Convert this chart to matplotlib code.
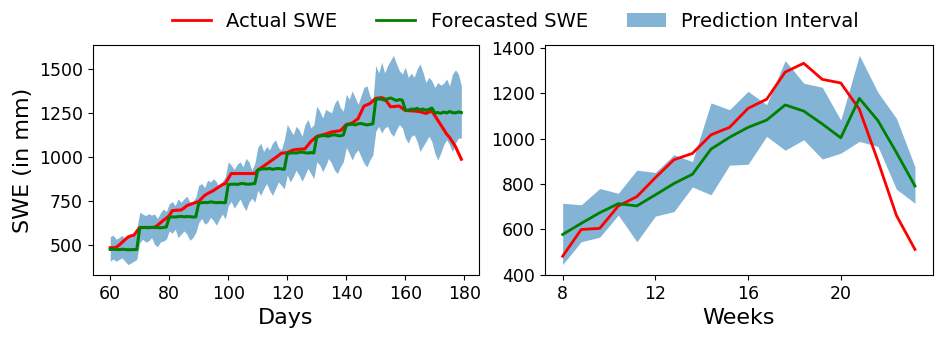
import matplotlib.pyplot as plt

# daily forecast panel
days = list(range(60, 180))

actual_daily = [
    485, 485, 487, 500, 515, 530, 545, 552, 556, 578,
    600, 600, 600, 600, 600, 600, 612, 626, 640, 653,
    667, 695, 697, 698, 699, 710, 724, 730, 736, 742,
    747, 765, 782, 792, 801, 810, 821, 832, 843, 849,
    878, 906, 906, 906, 906, 906, 906, 906, 906, 906,
    925, 937, 948, 960, 972, 984, 996, 1008, 1021, 1023,
    1025, 1033, 1040, 1042, 1044, 1045, 1046, 1067, 1088, 1102,
    1117, 1122, 1126, 1130, 1136, 1142, 1144, 1147, 1149, 1166,
    1184, 1188, 1193, 1205, 1218, 1254, 1289, 1296, 1303, 1318,
    1333, 1335, 1337, 1331, 1308, 1285, 1286, 1288, 1289, 1276,
    1264, 1263, 1262, 1261, 1259, 1257, 1252, 1247, 1254, 1261,
    1235, 1209, 1183, 1157, 1130, 1111, 1085, 1059, 1023, 987,
]

forecast_daily = [
    475, 476, 475, 474, 476, 475, 473, 474, 474, 475,
    598, 599, 600, 598, 600, 601, 599, 598, 600, 602,
    657, 660, 659, 661, 663, 660, 662, 661, 659, 660,
    738, 740, 742, 741, 745, 743, 740, 742, 741, 740,
    843, 845, 846, 844, 848, 850, 846, 845, 848, 849,
    925, 930, 933, 932, 935, 930, 933, 935, 932, 930,
    1020, 1022, 1024, 1022, 1026, 1028, 1024, 1022, 1025, 1023,
    1113, 1118, 1122, 1120, 1118, 1124, 1126, 1122, 1120, 1125,
    1180, 1184, 1186, 1182, 1188, 1190, 1186, 1182, 1185, 1188,
    1325, 1330, 1328, 1322, 1330, 1335, 1328, 1320, 1326, 1322,
    1268, 1265, 1272, 1270, 1276, 1268, 1272, 1265, 1270, 1278,
    1250, 1252, 1248, 1255, 1250, 1258, 1252, 1250, 1256, 1252,
]

upper_daily = [
    548, 556, 533, 542, 556, 533, 552, 546, 561, 590,
    686, 676, 667, 678, 670, 676, 651, 682, 705, 690,
    734, 747, 724, 762, 743, 762, 778, 743, 747, 772,
    839, 849, 826, 868, 858, 877, 858, 824, 862, 887,
    973, 954, 929, 958, 973, 944, 992, 973, 925, 964,
    1054, 1079, 1031, 1060, 1040, 1079, 1098, 1054, 1040, 1098,
    1184, 1155, 1126, 1174, 1155, 1117, 1184, 1213, 1165, 1184,
    1289, 1260, 1222, 1270, 1260, 1251, 1303, 1328, 1280, 1260,
    1356, 1328, 1375, 1337, 1299, 1347, 1395, 1404, 1347, 1318,
    1519, 1477, 1538, 1477, 1519, 1548, 1577, 1529, 1490, 1471,
    1510, 1452, 1475, 1452, 1500, 1529, 1481, 1423, 1452, 1433,
    1395, 1423, 1408, 1418, 1443, 1404, 1471, 1494, 1471, 1404,
]

lower_daily = [
    408, 421, 408, 418, 427, 408, 389, 398, 408, 418,
    513, 533, 517, 523, 542, 504, 490, 517, 523, 533,
    580, 567, 590, 542, 561, 580, 561, 527, 542, 571,
    628, 651, 619, 628, 657, 638, 613, 648, 676, 648,
    724, 747, 709, 734, 762, 724, 695, 743, 766, 743,
    810, 782, 820, 849, 810, 782, 820, 858, 839, 820,
    897, 858, 887, 925, 897, 862, 897, 935, 906, 877,
    973, 954, 916, 950, 992, 964, 925, 906, 944, 973,
    1054, 1021, 983, 1021, 1040, 1002, 964, 944, 983, 1011,
    1146, 1174, 1136, 1165, 1174, 1136, 1117, 1155, 1184, 1165,
    1107, 1079, 1117, 1126, 1088, 1031, 1060, 1088, 1117, 1088,
    1021, 983, 1021, 1069, 1098, 1069, 1031, 1079, 1107, 1107,
]

# weekly forecast panel
weeks = [8.0, 8.8, 9.6, 10.4, 11.2, 12.0, 12.8, 13.6, 14.4, 15.2,
         16.0, 16.8, 17.6, 18.4, 19.2, 20.0, 20.8, 21.6, 22.4, 23.2]
actual_weekly = [481, 599, 604, 703, 744, 828, 907, 935, 1017, 1050,
                 1134, 1174, 1294, 1333, 1262, 1246, 1130, 902, 661, 511]
forecast_weekly = [577, 626, 673, 713, 703, 752, 802, 843, 954, 1006,
                   1050, 1082, 1149, 1122, 1065, 1004, 1178, 1080, 939, 791]
upper_weekly = [715, 708, 780, 759, 861, 851, 929, 899, 1158, 1128,
                1209, 1150, 1345, 1245, 1227, 1082, 1368, 1205, 1090, 876]
lower_weekly = [444, 545, 565, 663, 545, 658, 678, 787, 752, 883,
                887, 1010, 949, 995, 910, 936, 988, 966, 777, 715]

fig = plt.figure(figsize=(9.42, 3.4), dpi=100)
ax1 = fig.add_axes([0.0984, 0.191, 0.410, 0.677])
ax2 = fig.add_axes([0.5786, 0.191, 0.4114, 0.677])

ax1.fill_between(days, lower_daily, upper_daily, color='C0', alpha=0.55, linewidth=0)
ax1.plot(days, actual_daily, color='red', linewidth=2.2)
ax1.plot(days, forecast_daily, color='green', linewidth=2.2)
ax1.set_xlabel('Days', fontsize=16)
ax1.set_ylabel('SWE (in mm)', fontsize=16)
ax1.tick_params(labelsize=12.5)

band = ax2.fill_between(weeks, lower_weekly, upper_weekly, color='C0', alpha=0.55,
                        linewidth=0, label='Prediction Interval')
l1, = ax2.plot(weeks, actual_weekly, color='red', linewidth=2, label='Actual SWE')
l2, = ax2.plot(weeks, forecast_weekly, color='green', linewidth=2, label='Forecasted SWE')
ax2.set_xticks([8, 12, 16, 20])
ax2.set_xlabel('Weeks', fontsize=16)
ax2.tick_params(labelsize=12.5)

fig.legend([l1, l2, band], ['Actual SWE', 'Forecasted SWE', 'Prediction Interval'],
           loc='center', bbox_to_anchor=(0.547, 0.938), ncol=3, frameon=False,
           fontsize=14, columnspacing=2.0)

fig.savefig('out.png', dpi=100)
